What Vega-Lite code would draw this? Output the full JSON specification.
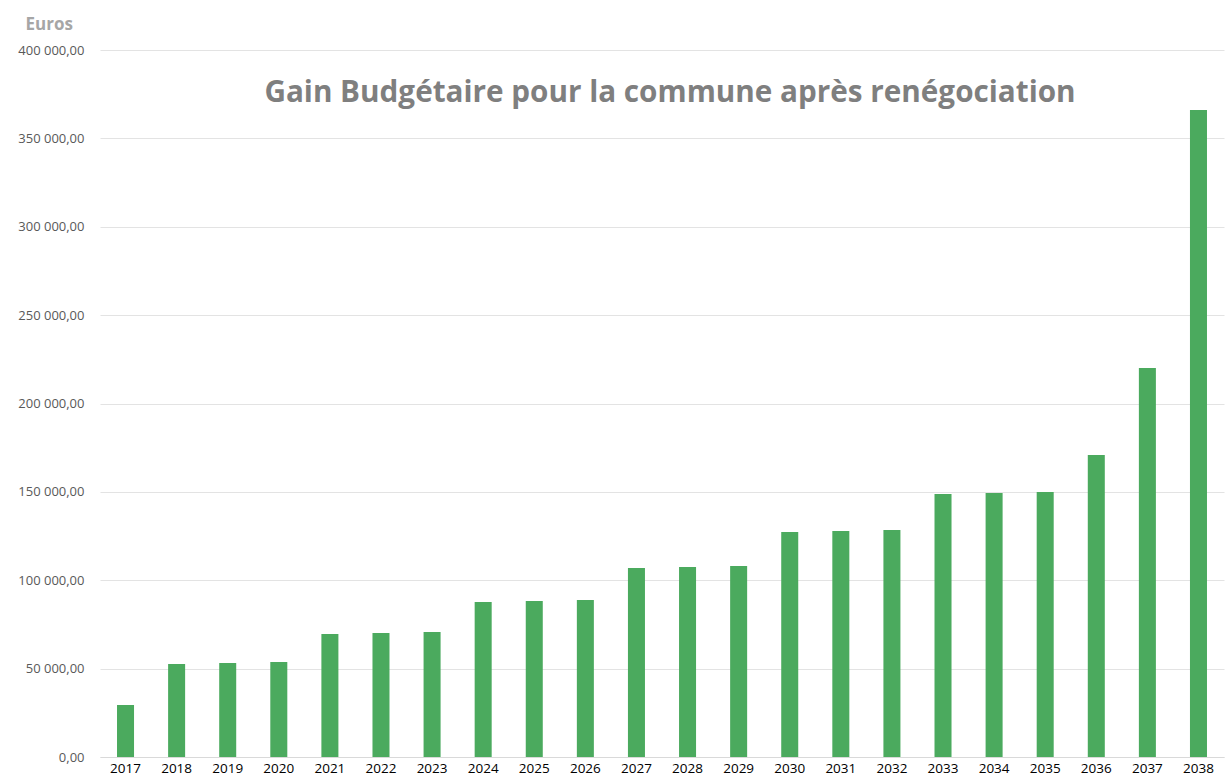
{
  "$schema": "https://vega.github.io/schema/vega-lite/v6.json",
  "autosize": {"type": "none"},
  "width": 1124,
  "height": 707,
  "padding": {"left": 100, "top": 50, "right": 8, "bottom": 22},
  "background": "white",
  "title": {
    "text": "Gain Budgétaire pour la commune après renégociation",
    "anchor": "middle",
    "frame": "group",
    "orient": "top",
    "offset": 0,
    "dy": 94,
    "dx": 8,
    "font": "Open Sans",
    "fontSize": 29.7,
    "fontWeight": "bold",
    "color": "#7f7f7f"
  },
  "config": {
    "view": {"stroke": null},
    "locale": {
      "number": {"decimal": ",", "thousands": " ", "grouping": [3], "currency": ["", " €"]}
    }
  },
  "data": {
    "values": [
      {"annee": "2017", "gain": 29400},
      {"annee": "2018", "gain": 52600},
      {"annee": "2019", "gain": 53200},
      {"annee": "2020", "gain": 53700},
      {"annee": "2021", "gain": 69600},
      {"annee": "2022", "gain": 70200},
      {"annee": "2023", "gain": 70700},
      {"annee": "2024", "gain": 87700},
      {"annee": "2025", "gain": 88300},
      {"annee": "2026", "gain": 88800},
      {"annee": "2027", "gain": 106900},
      {"annee": "2028", "gain": 107500},
      {"annee": "2029", "gain": 108100},
      {"annee": "2030", "gain": 127300},
      {"annee": "2031", "gain": 127900},
      {"annee": "2032", "gain": 128400},
      {"annee": "2033", "gain": 148800},
      {"annee": "2034", "gain": 149400},
      {"annee": "2035", "gain": 149900},
      {"annee": "2036", "gain": 170900},
      {"annee": "2037", "gain": 220100},
      {"annee": "2038", "gain": 366100}
    ]
  },
  "mark": {"type": "bar", "color": "#4BAA5E"},
  "encoding": {
    "x": {
      "field": "annee",
      "type": "ordinal",
      "scale": {"paddingInner": 0.667, "paddingOuter": 0.333},
      "axis": {
        "title": null,
        "labelAngle": 0,
        "ticks": false,
        "domain": true,
        "domainColor": "#d9d9d9",
        "domainWidth": 1,
        "labelFont": "Open Sans",
        "labelFontSize": 13.5,
        "labelColor": "#000000",
        "labelPadding": 4
      }
    },
    "y": {
      "field": "gain",
      "type": "quantitative",
      "scale": {"domain": [0, 400000], "nice": false},
      "axis": {
        "values": [0, 50000, 100000, 150000, 200000, 250000, 300000, 350000, 400000],
        "format": ",.2f",
        "domain": false,
        "ticks": false,
        "grid": true,
        "gridColor": "#e3e3e3",
        "gridWidth": 1,
        "labelFont": "Open Sans",
        "labelFontSize": 13,
        "labelColor": "#595959",
        "labelPadding": 16,
        "title": "Euros",
        "titleAngle": 0,
        "titleX": -75,
        "titleY": -26,
        "titleAlign": "left",
        "titleBaseline": "middle",
        "titleFont": "Open Sans",
        "titleFontSize": 17,
        "titleFontWeight": "bold",
        "titleColor": "#a6a6a6"
      }
    }
  }
}
